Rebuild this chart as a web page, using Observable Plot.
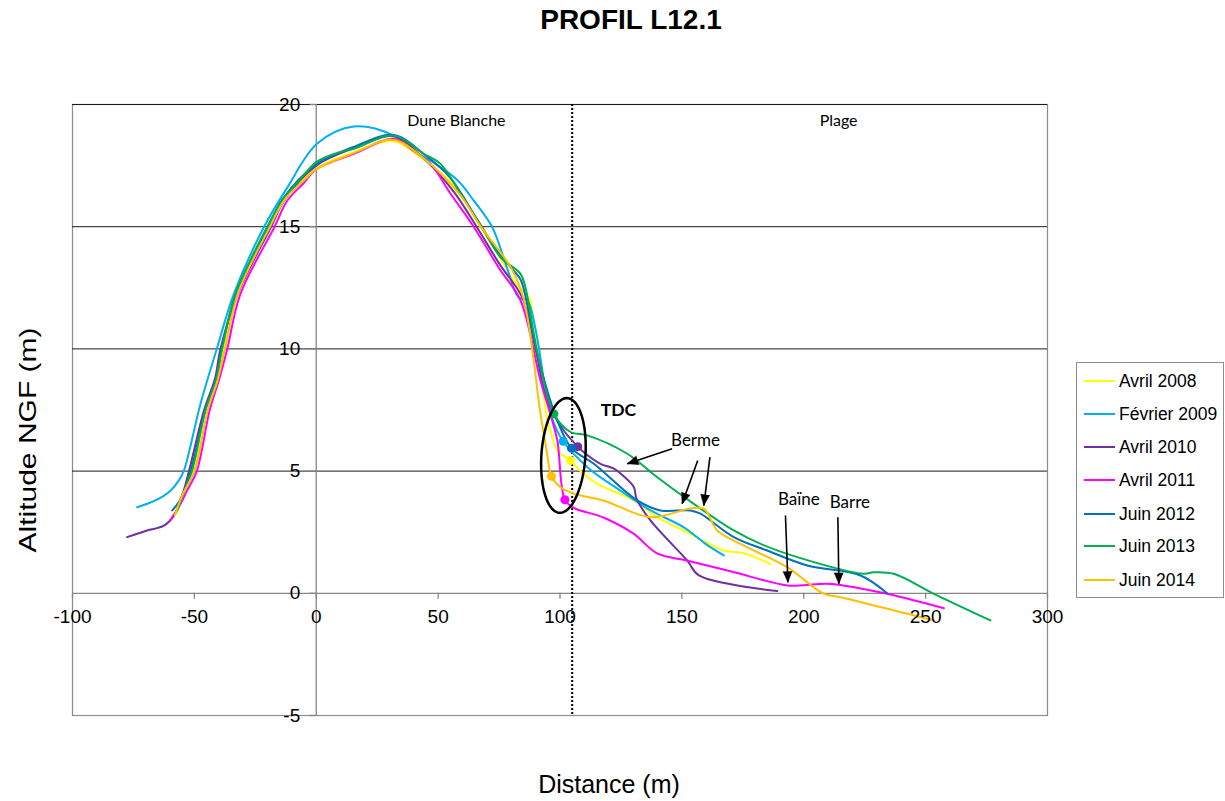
<!DOCTYPE html>
<html><head><meta charset="utf-8">
<script src="https://cdn.jsdelivr.net/npm/d3@7"></script>
<script src="https://cdn.jsdelivr.net/npm/@observablehq/plot@0.6"></script>
<style>
body{margin:0;background:#fff;font-family:"Liberation Sans",Arial,sans-serif;}
#wrap{position:relative;width:1225px;height:801px;overflow:hidden;background:#fff;}
#chart{position:absolute;left:0;top:0;}
#title{position:absolute;left:631px;top:6px;transform:translateX(-50%);font-size:28px;font-weight:bold;line-height:1;white-space:nowrap;color:#000;}
#xlabel{position:absolute;left:609px;top:772px;transform:translateX(-50%);font-size:25px;line-height:1;white-space:nowrap;}
#ylabel{position:absolute;left:28px;top:440px;transform:translate(-50%,-50%) rotate(-90deg) scale(1.25,1);font-size:24px;line-height:1;white-space:nowrap;}
#legend{position:absolute;left:1076px;top:362px;width:146px;height:234px;border:1px solid #8c8c8c;background:#fff;}
.lg{position:absolute;left:0;height:20px;width:146px;}
.lg span.sw{position:absolute;left:7px;top:9px;width:31px;height:2px;}
.lg span.tx{position:absolute;left:42px;top:0;font-size:17.5px;line-height:20px;white-space:nowrap;}
</style></head><body>
<div id="wrap">
<div id="chart"></div>
<div id="title">PROFIL L12.1</div>
<div id="xlabel">Distance (m)</div>
<div id="ylabel">Altitude NGF (m)</div>
<div id="legend"></div>
</div>
<script>
// ---------- DATA ----------
const seriesNames = ["Avril 2008", "Février 2009", "Avril 2010", "Avril 2011", "Juin 2012", "Juin 2013", "Juin 2014"];
const seriesColors = ["#FFFF00", "#00B0F0", "#7030A0", "#FF00FF", "#0070C0", "#00B050", "#FFC000"];

const avril2008 = [[-57,3.3],[-55,3.9],[-50.5,5.0],[-45.5,7.5],[-41,8.8],[-38,10.0],[-32.5,12.3],[-19.5,15.0],[-13,16.1],[-6,16.9],[0,17.4],[15.4,18.05],[31.8,18.5],[42.8,17.84],[50,17.3],[59.2,16.35],[67.4,15.0],[75,13.8],[81,12.8],[84,12.45],[87.2,12.1],[89.2,11.2],[91.3,9.8],[94.7,7.1],[96.1,6.66],[98.9,5.84],[104.3,5.43],[110,4.85],[116.6,4.41],[130.3,3.8],[139.9,3.11],[150.8,2.57],[167.2,1.75],[175.4,1.64],[186.4,1.2]];
const fevrier2009 = [[-73.5,3.52],[-66,3.8],[-59.8,4.2],[-56.5,4.6],[-54.3,5.02],[-47.5,7.75],[-40.6,10.07],[-33.8,12.25],[-21.5,14.98],[-11.9,16.6],[0.4,18.4],[15.4,19.1],[31.8,18.73],[40,18.1],[50,17.5],[58,16.9],[64.6,16.07],[72.2,14.98],[76.3,13.9],[78.3,13.3],[83.1,12.1],[86.5,12.0],[87.9,11.7],[90.6,10.48],[96.1,7.36],[101.3,6.22],[112,5.1],[124.8,4.2],[137,3.4],[150.8,2.7],[160,2.0],[167.2,1.55]];
const avril2010 = [[-77.6,2.3],[-69.4,2.57],[-62.5,2.77],[-58.4,3.18],[-55,4.0],[-52.2,5.0],[-46,7.5],[-41.5,8.8],[-39.3,10.0],[-32,12.3],[-18.5,15.0],[-13,16.1],[0,17.5],[15,18.2],[31.8,18.7],[44,17.8],[50,17.2],[57,16.35],[65.8,15.0],[75,13.5],[84.5,12.1],[90,10.0],[93.5,8.3],[97.5,7.3],[102,6.6],[107.3,6.0],[110,5.75],[116.6,5.3],[122.1,5.1],[126,4.8],[130.3,4.34],[131.4,3.87],[137.1,2.98],[152.2,1.34],[157,0.73],[189.1,0.09]];
const avril2011 = [[-59.8,3.0],[-56,3.6],[-53,4.2],[-49,5.0],[-43.7,7.5],[-40,8.7],[-36.5,10.0],[-31.1,12.25],[-17.1,15.0],[-11.9,16.06],[-5,16.8],[0,17.35],[15.4,17.98],[31.8,18.6],[40,18.1],[46.9,17.57],[55.1,16.35],[64.6,15.0],[75,13.3],[83.8,11.98],[92,8.7],[96,7.35],[98.9,6.25],[102,3.83],[105.7,3.5],[117.8,3.1],[130,2.45],[139.9,1.63],[152,1.34],[170,0.9],[193.2,0.32],[200,0.33],[209.6,0.39],[223.3,0.2],[235.6,-0.05],[257.5,-0.61]];
const juin2012 = [[-59.1,3.39],[-56,3.8],[-51.5,5.0],[-45.5,7.5],[-41,8.8],[-38.8,10.0],[-32.8,12.3],[-19.7,15.0],[-14,16.1],[0,17.55],[15,18.25],[31.8,18.75],[45,17.9],[55,17.0],[66,15.3],[75,13.9],[81,13.2],[84,12.8],[90.6,9.8],[98.9,7.07],[104.7,5.94],[113.9,5.3],[131.7,3.8],[141.2,3.39],[153.5,3.39],[157.6,3.26],[171.3,2.3],[185,1.75],[201.4,1.14],[223.3,0.73],[234.2,0.0]];
const juin2013 = [[-57,3.39],[-54.5,4.1],[-51,5.0],[-45.4,7.5],[-41,8.8],[-38.6,10.0],[-33.1,12.25],[-20.1,15.0],[-14,16.06],[-6,17.0],[0,17.64],[8,18.0],[15.4,18.19],[31.8,18.73],[44.1,17.98],[51,17.57],[59.2,16.35],[68.7,14.84],[75.6,13.75],[83.8,13.07],[85.8,12.52],[90.6,9.93],[97.5,7.34],[104.3,6.6],[111.2,6.46],[127.6,5.71],[139.9,4.75],[154.9,3.66],[171.3,2.57],[182.3,2.02],[197.3,1.48],[224.6,0.8],[228.7,0.86],[236.9,0.8],[253.4,-0.02],[276.6,-1.11]];
const juin2014 = [[-58,3.2],[-55,4.0],[-50,5.0],[-44.5,7.5],[-40.5,8.7],[-37.5,10.0],[-32,12.3],[-19,15.0],[-13,16.1],[-5,16.9],[0,17.35],[15,18.0],[31.5,18.55],[44,17.8],[59,16.3],[67.5,15.0],[80,13.3],[85.2,12.0],[92,7.35],[94.7,5.72],[96.5,4.79],[100.2,4.34],[105.6,4.08],[117.8,3.8],[137.1,3.11],[153.5,3.47],[159,3.46],[164.5,2.57],[174,2.02],[193.2,1.07],[208.2,-0.02],[215,-0.16],[253.4,-1.11]];
const seriesData = [avril2008, fevrier2009, avril2010, avril2011, juin2012, juin2013, juin2014];

// TDC points (one per series, same order)
const tdcX = [104.3, 101.3, 107.3, 102.0, 104.7, 97.5, 96.5];
const tdcY = [5.43, 6.22, 6.0, 3.83, 5.94, 7.34, 4.79];

const xTicks = [-100, -50, 0, 50, 100, 150, 200, 250, 300];
const yTicks = [-5, 0, 5, 10, 15, 20];
const gridY = [5, 10, 15, 20];
const zoneBoundary = 105;
const zoneLabels = ["Dune Blanche", "Plage"];
const zoneLabelX = [57.5, 214.3];
const zoneLabelY = 19.35;

const annotLabels = ["TDC", "Berme", "Baïne", "Barre"];
const annotX = [124, 155.6, 198.0, 218.9];
const annotY = [7.48, 6.25, 3.83, 3.73];
const arrowX1 = [146.0, 156.5, 161.5, 192.5, 214.0];
const arrowY1 = [5.91, 5.43, 5.57, 3.18, 3.11];
const arrowX2 = [127.6, 150.1, 159.0, 193.5, 214.4];
const arrowY2 = [5.3, 3.66, 3.59, 0.45, 0.39];
const ellipseCenter = [101.4, 5.64];

// ---------- LAYOUT ----------
const W = 1225, H = 801, mL = 72, mR = 178, mT = 104, mB = 86;
const xDom = [-100, 300], yDom = [-5, 20];
const kx = (W - mL - mR) / (xDom[1] - xDom[0]);
const ky = (H - mT - mB) / (yDom[1] - yDom[0]);
const axisGray = "#868686";

const rows = [];
seriesData.forEach((pts, i) => pts.forEach(([x, y]) => rows.push({series: seriesNames[i], x, y})));
const tdcRows = seriesNames.map((s, i) => ({series: s, x: tdcX[i], y: tdcY[i], color: seriesColors[i]}));

// ellipse outline around TDC points (pixel-shaped, tilted)
const ellA = 22, ellB = 57.5, tilt = 4 * Math.PI / 180;
const ellipsePts = d3.range(0, 361, 4).map(deg => {
  const t = deg * Math.PI / 180;
  const ex = ellA * Math.cos(t), ey = ellB * Math.sin(t);
  const rx = ex * Math.cos(tilt) - ey * Math.sin(tilt);
  const ry = ex * Math.sin(tilt) + ey * Math.cos(tilt);
  return {x: ellipseCenter[0] + rx / kx, y: ellipseCenter[1] - ry / ky};
});
const arrows = arrowX1.map((x1, i) => {
  const x2 = arrowX2[i], y1 = arrowY1[i], y2 = arrowY2[i];
  const dx = (x2 - x1) * kx, dyDown = -(y2 - y1) * ky;
  const rot = Math.atan2(dx, -dyDown) * 180 / Math.PI;
  return {x1, y1, x2, y2, rot};
});
const annots = annotLabels.map((t, i) => ({t, x: annotX[i], y: annotY[i]}));
const zones = zoneLabels.map((t, i) => ({t, x: zoneLabelX[i], y: zoneLabelY}));
const tickLenPx = 6;

function buildMarks(filledHeads) {
  const arrowMarks = filledHeads
    ? [
        Plot.link(arrows, {x1: "x1", y1: "y1", x2: "x2", y2: "y2", stroke: "#000", strokeWidth: 1.6}),
        Plot.vector(arrows, {x: "x2", y: "y2", rotate: "rot", length: 11, r: 4.5, shape: "spike", anchor: "end", fill: "#000", stroke: "#000", strokeWidth: 0.5})
      ]
    : [Plot.arrow(arrows, {x1: "x1", y1: "y1", x2: "x2", y2: "y2", stroke: "#000", strokeWidth: 1.6, headLength: 11, headAngle: 45})];
  return [
    Plot.frame({stroke: "#8c8c8c", strokeWidth: 1.2}),
    Plot.ruleY(gridY, {stroke: "#1a1a1a", strokeWidth: 1}),
    Plot.ruleY([0], {stroke: axisGray, strokeWidth: 1.3}),
    Plot.ruleX([0], {stroke: axisGray, strokeWidth: 1.3}),
    Plot.ruleX(xTicks, {x: d => d, y1: 0, y2: -tickLenPx / ky, stroke: axisGray, strokeWidth: 1.3}),
    Plot.ruleY(yTicks, {y: d => d, x1: 0, x2: -tickLenPx / kx, stroke: axisGray, strokeWidth: 1.3}),
    Plot.ruleX([zoneBoundary], {stroke: "#000", strokeWidth: 2, strokeDasharray: "2,2"}),
    ...seriesNames.map((s, i) => Plot.line(rows.filter(r => r.series === s), {x: "x", y: "y", stroke: seriesColors[i], strokeWidth: 2, curve: "catmull-rom"})),
    ...tdcRows.map(r => Plot.dot([r], {x: "x", y: "y", r: 4.5, fill: r.color, stroke: "none"})),
    Plot.line(ellipsePts, {x: "x", y: "y", stroke: "#000", strokeWidth: 2.5, curve: "linear"}),
    ...arrowMarks,
    Plot.text(xTicks, {x: d => d, y: 0, dy: 24, text: d => String(d), fontSize: 19, fill: "#000"}),
    Plot.text(yTicks, {x: 0, y: d => d, dx: -16, text: d => String(d), textAnchor: "end", fontSize: 19, fill: "#000"}),
    Plot.text(zones, {x: "x", y: "y", text: "t", fontSize: 16, fontFamily: "Lato, sans-serif", fill: "#000"}),
    Plot.text(annots.slice(0, 1), {x: "x", y: "y", text: "t", fontSize: 17.5, fontWeight: "bold", fontFamily: "Lato, sans-serif", fill: "#000"}),
    Plot.text(annots.slice(1), {x: "x", y: "y", text: "t", fontSize: 17, fontFamily: "Lato, sans-serif", fill: "#000"})
  ];
}

function makeChart(filled) {
  return Plot.plot({
    width: W, height: H,
    marginLeft: mL, marginRight: mR, marginTop: mT, marginBottom: mB,
    x: {domain: xDom, axis: null},
    y: {domain: yDom, axis: null},
    style: {fontFamily: "'Liberation Sans', Arial, sans-serif", background: "#fff", color: "#000"},
    marks: buildMarks(filled)
  });
}
let chart;
try { chart = makeChart(true); } catch (e) { chart = makeChart(false); }
document.getElementById("chart").appendChild(chart);

// legend
const lg = document.getElementById("legend");
const rowTops = [8, 41, 74, 107, 141, 173, 207];
seriesNames.forEach((s, i) => {
  const d = document.createElement("div");
  d.className = "lg";
  d.style.top = rowTops[i] + "px";
  d.innerHTML = `<span class="sw" style="background:${seriesColors[i]}"></span><span class="tx">${s}</span>`;
  lg.appendChild(d);
});
</script>
</body></html>
